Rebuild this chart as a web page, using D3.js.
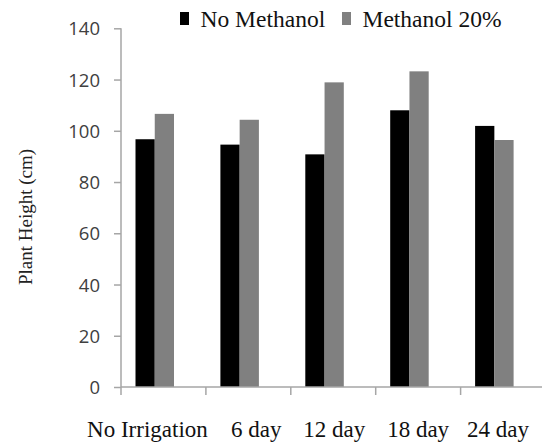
<!DOCTYPE html>
<html>
<head>
<meta charset="utf-8">
<script src="https://cdn.jsdelivr.net/npm/d3@7"></script>
<style>
  html, body { margin: 0; padding: 0; background: #fff; }
  svg { display: block; }
</style>
</head>
<body>
<svg id="chart" width="542" height="442"></svg>
<script>
// ---- data ----
const categories = ["No Irrigation", "6 day", "12 day", "18 day", "24 day"];
const seriesNames = ["No Methanol", "Methanol 20%"];
const noMethanol = [96.7, 94.6, 90.8, 108.0, 101.9];
const methanol20 = [106.6, 104.3, 118.9, 123.2, 96.4];
const yTicks = [0, 20, 40, 60, 80, 100, 120, 140];
const yLabel = "Plant Height (cm)";

// ---- layout / style ----
const colors = ["#000000", "#808080"];
const axisColor = "#a6a6a6";
const serif = "'Liberation Serif', 'Times New Roman', serif";
const sans = "'Open Sans', 'DejaVu Sans', sans-serif";

const svg = d3.select("#chart");
const x0 = d3.scaleBand().domain(categories).range([121, 545.5]).padding(0);
const x1 = d3.scaleBand().domain(seriesNames).range([14.5, 53]).padding(0);
const y = d3.scaleLinear().domain([0, 140]).range([387, 28.3]);

const series = [noMethanol, methanol20];
const rows = categories.map((c, i) => ({ cat: c, vals: seriesNames.map((s, j) => ({ s, v: series[j][i] })) }));

// bars
const g = svg.append("g");
g.selectAll("g.grp").data(rows).join("g")
  .attr("class", "grp")
  .attr("transform", d => `translate(${x0(d.cat)},0)`)
  .selectAll("rect").data(d => d.vals).join("rect")
  .attr("x", d => x1(d.s))
  .attr("width", x1.bandwidth())
  .attr("y", d => y(d.v))
  .attr("height", d => y(0) - y(d.v))
  .attr("fill", (d, i) => colors[i]);

// y axis
const yAxis = svg.append("g")
  .attr("transform", "translate(121,0)")
  .call(d3.axisLeft(y).tickValues(yTicks).tickSize(7).tickPadding(14).tickFormat(d3.format("d")));
yAxis.select(".domain").attr("stroke", axisColor).attr("stroke-width", 1.5).attr("d", `M0,${y(0)}V${y(140)}`);
yAxis.selectAll(".tick line").attr("stroke", axisColor).attr("stroke-width", 1.5);
yAxis.selectAll(".tick text")
  .style("font-family", sans).attr("font-size", 18.5).attr("fill", "#404040")
  .attr("dy", "0.36em");

// x axis
const xAxis = svg.append("g").attr("transform", `translate(0,${y(0)})`);
xAxis.append("line").attr("x1", 121).attr("x2", 542).attr("y1", 0).attr("y2", 0)
  .attr("stroke", axisColor).attr("stroke-width", 1.5);
xAxis.selectAll("line.tk").data(categories).join("line")
  .attr("class", "tk")
  .attr("x1", d => x0(d)).attr("x2", d => x0(d))
  .attr("y1", 0).attr("y2", 8)
  .attr("stroke", axisColor).attr("stroke-width", 1.5);
const nudge = [-16, 8, 1, 0, -5];
xAxis.selectAll("text.xl").data(categories).join("text")
  .attr("class", "xl")
  .attr("x", (d, i) => x0(d) + x0.bandwidth() / 2 + nudge[i])
  .attr("y", 49.5)
  .attr("text-anchor", "middle")
  .style("font-family", serif).attr("font-size", 23).attr("fill", "#111")
  .text(d => d);

// y label
svg.append("text")
  .attr("transform", `translate(32,${217}) rotate(-90)`)
  .attr("text-anchor", "middle")
  .style("font-family", serif).attr("font-size", 19).attr("fill", "#222")
  .text(yLabel);

// legend
const legendX = [180, 342];
const leg = svg.append("g");
seriesNames.forEach((s, i) => {
  leg.append("rect").attr("x", legendX[i]).attr("y", 12).attr("width", 9).attr("height", 13).attr("fill", colors[i]);
  leg.append("text").attr("x", legendX[i] + 20.5).attr("y", 26.5)
    .style("font-family", serif).attr("font-size", 23.5).attr("fill", "#111")
    .text(s);
});
</script>
</body>
</html>
